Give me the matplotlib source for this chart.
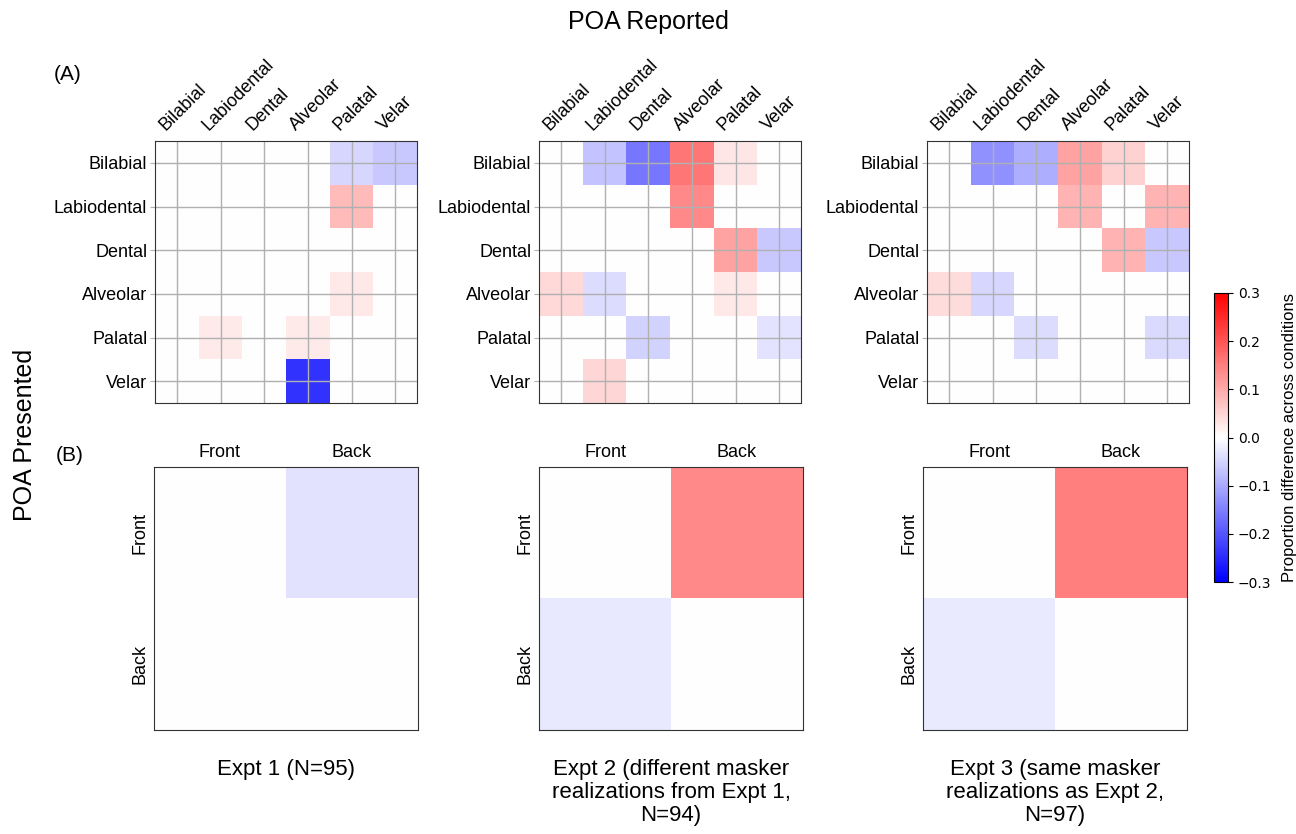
import numpy as np
import matplotlib.pyplot as plt

plt.rcParams['font.family'] = ['Liberation Sans', 'DejaVu Sans']

poa = ['Bilabial', 'Labiodental', 'Dental', 'Alveolar', 'Palatal', 'Velar']
fb = ['Front', 'Back']

# (A) rows = presented, cols = reported
expt1 = [[0, 0, 0, 0, -0.047, -0.065],
         [0, 0, 0, 0, 0.08, 0],
         [0, 0, 0, 0, 0, 0],
         [0, 0, 0, 0, 0.027, 0],
         [0, 0.024, 0, 0.024, 0, 0],
         [0, 0, 0, -0.24, 0, 0]]
expt2 = [[0, -0.07, -0.16, 0.16, 0.03, 0],
         [0, 0, 0, 0.14, 0, 0],
         [0, 0, 0, 0, 0.11, -0.065],
         [0.045, -0.04, 0, 0, 0.027, 0],
         [0, 0, -0.053, 0, 0, -0.032],
         [0, 0.047, 0, 0, 0, 0]]
expt3 = [[0, -0.13, -0.094, 0.11, 0.053, 0],
         [0, 0, 0, 0.088, 0, 0.088],
         [0, 0, 0, 0, 0.088, -0.065],
         [0.04, -0.047, 0, 0, 0, 0],
         [0, 0, -0.04, 0, 0, -0.044],
         [0, 0, 0, 0, 0, 0]]

# (B) front/back collapsed
fb1 = [[0, -0.035], [0, 0]]
fb2 = [[0, 0.14], [-0.027, 0]]
fb3 = [[0, 0.15], [-0.024, 0]]

titles = ['Expt 1 (N=95)',
          'Expt 2 (different masker\nrealizations from Expt 1,\nN=94)',
          'Expt 3 (same masker\nrealizations as Expt 2,\nN=97)']

W, H = 1296, 834
fig = plt.figure(figsize=(W / 100, H / 100), dpi=100)

def px_axes(x0, y0, x1, y1):
    return fig.add_axes([x0 / W, (H - y1) / H, (x1 - x0) / W, (y1 - y0) / H])

lefts_a = [155, 539, 927]
lefts_b = [154, 539, 923]

for i, m in enumerate([expt1, expt2, expt3]):
    ax = px_axes(lefts_a[i], 141, lefts_a[i] + 262, 403)
    im = ax.imshow(np.array(m), cmap='bwr', vmin=-0.3, vmax=0.3, aspect='auto')
    ax.xaxis.tick_top()
    # major ticks carry the grid, minor ticks (nudged left) carry the labels
    ax.set_xticks(range(6))
    ax.set_xticklabels([])
    ax.set_xticks(np.arange(6) - 0.2, minor=True)
    ax.set_xticklabels(poa, minor=True, fontsize=13, rotation=45,
                       ha='left', rotation_mode='anchor')
    ax.set_yticks(range(6))
    ax.set_yticklabels(poa, fontsize=13)
    ax.tick_params(axis='x', which='both', length=0, pad=5)
    ax.tick_params(axis='y', length=3.5, color='#b0b0b0', pad=2)
    ax.grid(True, which='major', color='#b0b0b0', linewidth=1)
    for s in ax.spines.values():
        s.set_color('#333333')

for i, m in enumerate([fb1, fb2, fb3]):
    ax = px_axes(lefts_b[i], 467, lefts_b[i] + 264, 730)
    ax.imshow(np.array(m), cmap='bwr', vmin=-0.3, vmax=0.3, aspect='auto')
    ax.set_xticks(range(2))
    ax.set_yticks(range(2))
    ax.set_xticklabels(fb, fontsize=13)
    ax.set_yticklabels(fb, fontsize=13, rotation=90, va='center')
    ax.xaxis.tick_top()
    ax.tick_params(length=0, pad=4)
    for s in ax.spines.values():
        s.set_color('#333333')
    fig.text((lefts_b[i] + 132) / W, 1 - 759 / H, titles[i], ha='center', va='top',
             fontsize=16, linespacing=1.12)

cax = px_axes(1214, 293, 1228, 582)
cb = fig.colorbar(im, cax=cax, ticks=[-0.3, -0.2, -0.1, 0, 0.1, 0.2, 0.3])
cb.ax.tick_params(labelsize=10)
for t in cb.ax.get_yticklabels():
    t.set_family('DejaVu Sans')
cb.set_label('Proportion difference across conditions', fontsize=12, labelpad=8)

fig.text(0.5, 1 - 22 / H, 'POA Reported', ha='center', va='center', fontsize=18)
fig.text(25 / W, 1 - 435 / H, 'POA Presented', ha='center', va='center',
         rotation=90, fontsize=18)
fig.text(68 / W, 1 - 75 / H, '(A)', ha='center', va='center', fontsize=15)
fig.text(70 / W, 1 - 455 / H, '(B)', ha='center', va='center', fontsize=15)

fig.savefig('out.png', dpi=100)
